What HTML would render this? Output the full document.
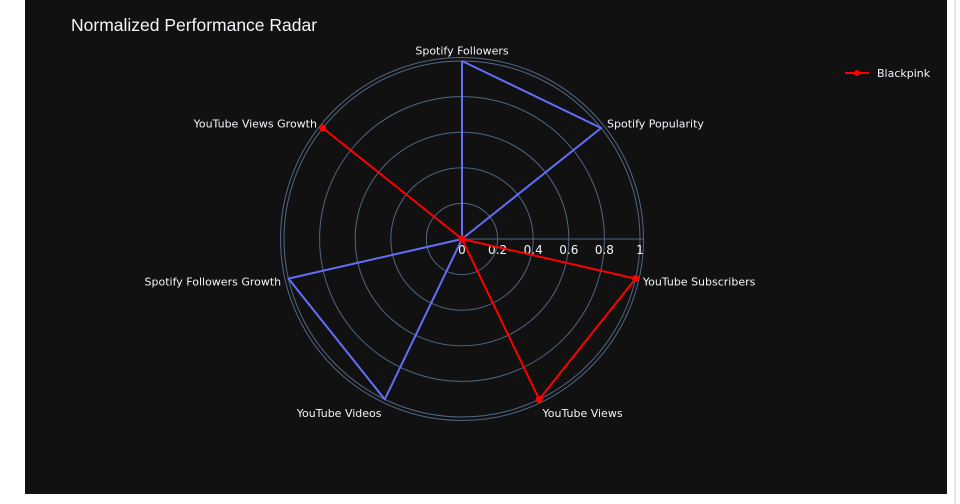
<!DOCTYPE html>
<html><head><meta charset="utf-8"><style>
body{margin:0;background:#fff;width:960px;height:504px;overflow:hidden;font-family:"Liberation Sans",Arial,sans-serif}
</style></head><body>
<svg id="c" width="960" height="504" style="position:absolute;left:0;top:0">
<rect x="25" y="0" width="922" height="494" fill="#111111"/>
<line x1="955" y1="0" x2="955" y2="504" stroke="#ccc" stroke-width="1"/>
<text x="71" y="31" fill="#f2f5fa" font-size="17.5">Normalized Performance Radar</text>
<g id="grid"></g><g id="series"></g><g id="labels"></g>
<g>
<line x1="845" y1="73" x2="869" y2="73" stroke="#ff0000" stroke-width="2"/>
<circle cx="857" cy="73" r="3" fill="#ff0000"/>
<text x="877" y="77" fill="#f2f5fa" font-size="11" font-family="DejaVu Sans, sans-serif">Blackpink</text>
</g>
</svg>
<script>
const categories=["Spotify Followers","Spotify Popularity","YouTube Subscribers","YouTube Views","YouTube Videos","Spotify Followers Growth","YouTube Views Growth"];
const blueValues=[1,1,0,0,1,1,0];
const redValues=[0,0,1,1,0,0,1];
const radialTicks=[0,0.2,0.4,0.6,0.8,1];
const tickLabels=["0","0.2","0.4","0.6","0.8","1"];
const NS="http://www.w3.org/2000/svg";
const cx=462,cy=239,R=178,outerR=181.5;
function rScale(v){return v*R;}
function ang(i){return Math.PI/2-i*2*Math.PI/categories.length;}
function pt(i,v){const a=ang(i),r=rScale(v);return [cx+r*Math.cos(a),cy-r*Math.sin(a)];}
function mk(tag,attrs,parent){const e=document.createElementNS(NS,tag);for(const k in attrs)e.setAttribute(k,attrs[k]);parent.appendChild(e);return e;}
const grid=document.getElementById('grid');
radialTicks.forEach(t=>{if(t>0){const c=mk('circle',{cx:cx,cy:cy,r:rScale(t),fill:'none',stroke:'#506784','stroke-width':1},grid);

}});
const oc=mk('circle',{cx:cx,cy:cy,r:outerR,fill:'none',stroke:'#506784','stroke-width':1},grid);


const ax=mk('line',{x1:cx,y1:cy,x2:cx+outerR,y2:cy,stroke:'#506784','stroke-width':1},grid);


radialTicks.forEach((t,i)=>{const tx=mk('text',{x:cx+rScale(t),y:cy+15,fill:'#f2f5fa','font-size':12,'font-family':'DejaVu Sans, sans-serif','text-anchor':'middle'},grid);tx.textContent=tickLabels[i];

});
const series=document.getElementById('series');
function drawSeries(vals,color,markers,name){
 const pts=vals.map((v,i)=>pt(i,v));pts.push(pts[0]);
 const p=mk('polyline',{points:pts.map(q=>q.join(',')).join(' '),fill:'none',stroke:color,'stroke-width':2,'stroke-linejoin':'round'},series);
 
 
 if(markers)vals.forEach((v,i)=>{const q=pt(i,v);const m=mk('circle',{cx:q[0],cy:q[1],r:3.5,fill:color},series);
 
 });
}
drawSeries(blueValues,'#636efa',false,'blue-series');
drawSeries(redValues,'#ff0000',true,'blackpink-series');
const labels=document.getElementById('labels');
categories.forEach((c,i)=>{const a=ang(i);const x=cx+(outerR+4)*Math.cos(a),y=cy-(outerR+4)*Math.sin(a);
 const cs=Math.cos(a);const anchor=Math.abs(cs)<0.1?'middle':(cs>0?'start':'end');
 let dy=4;if(Math.sin(a)>0.9)dy=1;else if(Math.sin(a)<-0.5)dy=11;else if(Math.sin(a)<0)dy=5;
 const t=mk('text',{x:x,y:y+dy,fill:'#f2f5fa','font-size':11,'font-family':'DejaVu Sans, sans-serif','text-anchor':anchor},labels);t.textContent=c;
 
 });
</script>
</body></html>
